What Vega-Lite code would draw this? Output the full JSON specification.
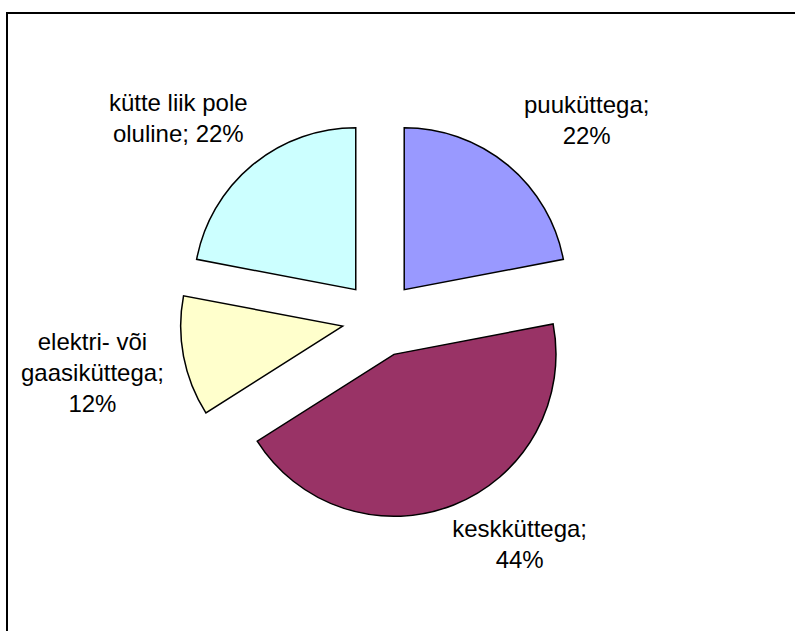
{
  "$schema": "https://vega.github.io/schema/vega-lite/v6.json",
  "width": 800,
  "height": 630,
  "autosize": {"type": "none"},
  "padding": {"left": 7, "top": 13, "right": 0, "bottom": 0},
  "background": "white",
  "config": {"view": {"stroke": "black", "strokeWidth": 2}, "font": "Liberation Sans"},
  "data": {
    "values": [
      {"kategooria": "puuküttega", "protsent": 22, "silt": "puuküttega;\n22%"},
      {"kategooria": "keskküttega", "protsent": 44, "silt": "keskküttega;\n44%"},
      {"kategooria": "elektri- või gaasiküttega", "protsent": 12, "silt": "elektri- või\ngaasiküttega;\n12%"},
      {"kategooria": "kütte liik pole oluline", "protsent": 22, "silt": "kütte liik pole\noluline; 22%"}
    ]
  },
  "transform": [
    {"window": [{"op": "sum", "field": "protsent", "as": "lopp"}], "frame": [null, 0]},
    {"calculate": "datum.lopp - datum.protsent", "as": "algus"},
    {"calculate": "PI * (datum.algus + datum.lopp) / 100", "as": "nurk"},
    {"calculate": "0.2346 * sin(datum.nurk)", "as": "ox"},
    {"calculate": "0.2346 * cos(datum.nurk)", "as": "oy"},
    {"calculate": "1.537 * sin(datum.nurk)", "as": "lx"},
    {"calculate": "1.537 * cos(datum.nurk)", "as": "ly"}
  ],
  "layer": [
    {
      "mark": {"type": "arc", "radius": 162, "stroke": "black", "strokeWidth": 1.5},
      "encoding": {
        "x": {"field": "ox", "type": "quantitative", "scale": {"domain": [-2.3025, 2.636], "nice": false, "zero": false}, "axis": null},
        "y": {"field": "oy", "type": "quantitative", "scale": {"domain": [-2.0, 1.8889], "nice": false, "zero": false}, "axis": null},
        "theta": {"field": "algus", "type": "quantitative", "stack": null, "scale": {"domain": [0, 100], "range": [0, 6.283185307]}},
        "theta2": {"field": "lopp"},
        "color": {
          "field": "kategooria",
          "type": "nominal",
          "scale": {
            "domain": ["puuküttega", "keskküttega", "elektri- või gaasiküttega", "kütte liik pole oluline"],
            "range": ["#9999FF", "#993366", "#FFFFCC", "#CCFFFF"]
          },
          "legend": null
        }
      }
    },
    {
      "transform": [{"filter": "datum.lx > 0"}],
      "mark": {"type": "text", "lineBreak": "\n", "align": "center", "baseline": "middle", "fontSize": 24, "lineHeight": 31, "dx": 48, "dy": -21, "color": "black"},
      "encoding": {
        "x": {"field": "lx", "type": "quantitative"},
        "y": {"field": "ly", "type": "quantitative"},
        "text": {"field": "silt"}
      }
    },
    {
      "transform": [{"filter": "datum.lx < 0"}],
      "mark": {"type": "text", "lineBreak": "\n", "align": "center", "baseline": "middle", "fontSize": 24, "lineHeight": 31, "dx": -43, "dy": -23, "color": "black"},
      "encoding": {
        "x": {"field": "lx", "type": "quantitative"},
        "y": {"field": "ly", "type": "quantitative"},
        "text": {"field": "silt"}
      }
    }
  ]
}
